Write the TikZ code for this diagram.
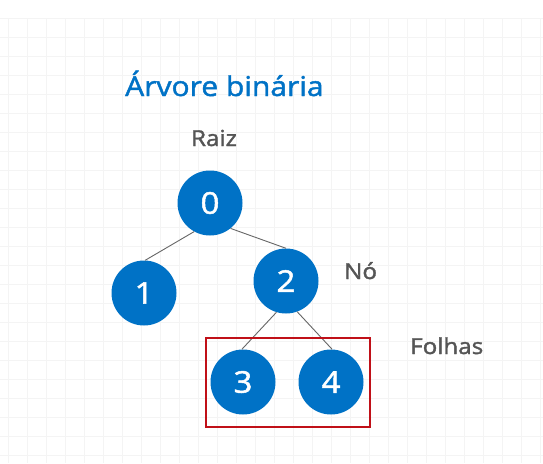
\documentclass[tikz,border=0pt]{standalone}
\usepackage{fontspec}
\setmainfont[FakeStretch=1.1,FakeBold=1.6]{Open Sans}
\definecolor{nodeblue}{RGB}{0,114,198}
\definecolor{txtgray}{RGB}{85,85,85}
\definecolor{boxred}{RGB}{192,16,24}
\definecolor{gridc}{RGB}{244,244,244}
\begin{document}
\begin{tikzpicture}[x=1pt,y=-1pt,
  treenode/.style={circle,fill=nodeblue,minimum size=65pt,inner sep=0pt,text=white,font=\fontsize{30}{32}\selectfont},
  lbl/.style={text=txtgray,font=\fontsize{22}{24}\selectfont,inner sep=0pt},
  edge/.style={draw=black!60,line width=0.9pt}]
\useasboundingbox (0,0) rectangle (543,463);
\fill[white] (0,0) rectangle (543,463);
\foreach \x in {8,27,...,543} \draw[gridc,line width=0.6pt] (\x,18) -- (\x,463);
\foreach \y in {18,37,...,463} \draw[gridc,line width=0.6pt] (0,\y) -- (543,\y);
\node[text=nodeblue,font=\fontsize{27.3}{32}\selectfont,anchor=base west,inner sep=0pt] (title) at (125,96) {Árvore binária};
\node[lbl,anchor=base] (raiz) at (214,146) {Raiz};
\node[lbl,anchor=base west] (no) at (344,279) {Nó};
\node[lbl,anchor=base west] (folhas) at (410,354) {Folhas};
\node[treenode] (n0) at (210,203) {0};
\node[treenode] (n1) at (144,293) {1};
\node[treenode] (n2) at (286,281) {2};
\node[treenode] (n3) at (243,382) {3};
\node[treenode] (n4) at (331,382) {4};
\draw[edge] (n0.241) -- (n1.88);
\draw[edge] (n0.309) -- (n2.90);
\draw[edge] (n2.253) -- (n3.92);
\draw[edge] (n2.290) -- (n4.88);
\node[draw=boxred,line width=1.8pt,minimum width=164pt,minimum height=89pt,inner sep=0pt] (box) at (288,382.5) {};
\end{tikzpicture}
\end{document}
